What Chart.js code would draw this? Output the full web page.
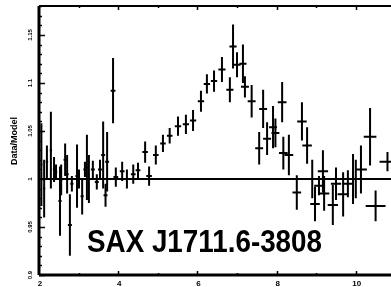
<!DOCTYPE html>
<html>
<head>
<meta charset="utf-8">
<script src="https://cdn.jsdelivr.net/npm/chart.js@4/dist/chart.umd.min.js"></script>
<style>
html, body { margin: 0; padding: 0; background: #fff; overflow: hidden; }
#wrap { width: 391px; height: 287px; position: relative; }
</style>
</head>
<body>
<div id="wrap"><canvas id="ratioChart"></canvas></div>
<script>
// energy (keV), data/model ratio and the errors
const energy = [2.06, 2.13, 2.20, 2.30, 2.38, 2.43, 2.53, 2.56, 2.66, 2.71, 2.78, 2.83, 2.96, 3.01, 3.09, 3.16, 3.21, 3.26,
    3.36, 3.46, 3.54, 3.62, 3.68, 3.72, 3.87, 3.94, 4.10, 4.22, 4.38, 4.50, 4.68, 4.78, 4.95, 5.13, 5.30, 5.51, 5.71,
    5.89, 6.09, 6.24, 6.42, 6.62, 6.82, 6.90, 7.00, 7.15, 7.20, 7.37, 7.56, 7.66, 7.76, 7.91, 7.97, 8.14, 8.17, 8.31,
    8.51, 8.64, 8.77, 8.90, 8.97, 9.07, 9.17, 9.20, 9.42, 9.50, 9.68, 9.80, 9.93, 10.0, 10.13, 10.36, 10.50, 10.80];
const ratio = [1.015, 0.990, 1.018, 1.030, 1.010, 1.007, 0.977, 0.999, 1.020, 1.005, 0.952, 0.995, 1.003, 1.000, 0.982, 1.010, 1.012, 1.000,
    1.010, 0.997, 1.010, 1.025, 0.983, 1.018, 1.092, 1.002, 1.008, 1.000, 1.005, 1.009, 1.028, 1.003, 1.025, 1.037, 1.045, 1.055, 1.057,
    1.061, 1.081, 1.099, 1.102, 1.114, 1.093, 1.138, 1.119, 1.120, 1.096, 1.081, 1.032, 1.073, 1.042, 1.054, 1.048, 1.080, 1.027, 1.025,
    0.986, 1.060, 1.035, 1.000, 0.974, 0.993, 1.008, 0.985, 0.973, 0.995, 0.984, 0.995, 1.000, 1.000, 1.010, 1.044, 0.972, 1.018];
const ratioErr = [0.043, 0.030, 0.017, 0.040, 0.013, 0.008, 0.036, 0.016, 0.017, 0.020, 0.032, 0.008, 0.033, 0.010, 0.019, 0.008, 0.034, 0.025,
    0.009, 0.008, 0.010, 0.035, 0.012, 0.031, 0.034, 0.010, 0.010, 0.010, 0.010, 0.008, 0.011, 0.010, 0.010, 0.009, 0.008, 0.010, 0.010,
    0.011, 0.011, 0.010, 0.011, 0.013, 0.013, 0.023, 0.013, 0.020, 0.011, 0.017, 0.017, 0.020, 0.017, 0.022, 0.015, 0.021, 0.017, 0.021,
    0.018, 0.020, 0.019, 0.020, 0.018, 0.010, 0.022, 0.018, 0.021, 0.017, 0.023, 0.014, 0.026, 0.020, 0.025, 0.030, 0.016, 0.010];
const energyErr = [0.03, 0.03, 0.03, 0.03, 0.03, 0.03, 0.04, 0.03, 0.04, 0.04, 0.05, 0.04, 0.04, 0.04, 0.04, 0.04, 0.04, 0.04,
    0.05, 0.05, 0.05, 0.05, 0.05, 0.05, 0.06, 0.06, 0.06, 0.06, 0.06, 0.06, 0.07, 0.07, 0.07, 0.07, 0.07, 0.08, 0.08,
    0.08, 0.08, 0.08, 0.08, 0.09, 0.09, 0.09, 0.09, 0.09, 0.10, 0.10, 0.10, 0.10, 0.10, 0.10, 0.10, 0.11, 0.11, 0.11,
    0.11, 0.12, 0.12, 0.12, 0.12, 0.12, 0.13, 0.13, 0.13, 0.13, 0.14, 0.14, 0.14, 0.15, 0.15, 0.16, 0.25, 0.20];

const xTicks = [2, 4, 6, 8, 10];
const yTicks = [0.9, 0.95, 1, 1.05, 1.1, 1.15];
const TITLE = 'SAX J1711.6-3808';
const YLABEL = 'Data/Model';

var points = [];
for (var i = 0; i < energy.length; i++) {
    points.push({x: energy[i], y: ratio[i], xe: energyErr[i], ye: ratioErr[i]});
}

// crosses, frame, ticks and labels, all placed through the chart scales
const spectrumPlugin = {
    id: 'spectrum',
    afterDatasetsDraw(chart) {
        const ctx = chart.ctx;
        const xs = chart.scales.x;
        const ys = chart.scales.y;
        const area = chart.chartArea;
        ctx.save();
        ctx.strokeStyle = '#000';
        ctx.fillStyle = '#000';

        // unity line
        ctx.lineWidth = 2;
        ctx.beginPath();
        ctx.moveTo(area.left, ys.getPixelForValue(1));
        ctx.lineTo(chart.width, ys.getPixelForValue(1));
        ctx.stroke();

        // error crosses
        ctx.lineWidth = 2;
        chart.data.datasets[0].data.forEach(function (p) {
            const px = xs.getPixelForValue(p.x);
            const py = ys.getPixelForValue(p.y);
            ctx.beginPath();
            ctx.moveTo(px, ys.getPixelForValue(p.y + p.ye));
            ctx.lineTo(px, ys.getPixelForValue(p.y - p.ye));
            ctx.moveTo(xs.getPixelForValue(p.x - p.xe), py);
            ctx.lineTo(xs.getPixelForValue(p.x + p.xe), py);
            ctx.stroke();
        });

        // frame
        ctx.lineWidth = 3;
        ctx.beginPath();
        ctx.moveTo(area.left, area.top);
        ctx.lineTo(area.left, area.bottom);
        ctx.stroke();
        ctx.lineWidth = 2;
        ctx.beginPath();
        ctx.moveTo(area.left, area.top);
        ctx.lineTo(chart.width, area.top);
        ctx.stroke();
        ctx.lineWidth = 3;
        ctx.beginPath();
        ctx.moveTo(area.left, area.bottom);
        ctx.lineTo(chart.width, area.bottom);
        ctx.stroke();

        // left ticks, minor every 0.01
        ctx.lineWidth = 1.5;
        for (var k = 0; k <= 28; k++) {
            const v = 0.9 + k * 0.01;
            const ty = Math.round(ys.getPixelForValue(v)) + 0.5;
            const len = (k % 5 === 0) ? 6 : 3;
            ctx.beginPath();
            ctx.moveTo(area.left, ty);
            ctx.lineTo(area.left + len, ty);
            ctx.stroke();
        }
        // top and bottom ticks every keV
        for (var e = 3; e <= 10; e++) {
            const tx = Math.round(xs.getPixelForValue(e)) + 0.5;
            const len = (e % 2 === 0) ? 4 : 2;
            ctx.beginPath();
            ctx.moveTo(tx, area.top);
            ctx.lineTo(tx, area.top + len);
            ctx.moveTo(tx, area.bottom);
            ctx.lineTo(tx, area.bottom - len);
            ctx.stroke();
        }

        // y tick labels, turned on their side
        ctx.font = 'bold 6px "Liberation Sans", Arial, sans-serif';
        ctx.textAlign = 'center';
        ctx.textBaseline = 'middle';
        yTicks.forEach(function (v) {
            ctx.save();
            ctx.translate(30, ys.getPixelForValue(v));
            ctx.rotate(-Math.PI / 2);
            ctx.fillText(String(v), 0, 0);
            ctx.restore();
        });
        // x tick labels
        ctx.font = 'bold 8px "Liberation Sans", Arial, sans-serif';
        ctx.textBaseline = 'top';
        xTicks.forEach(function (v) {
            ctx.fillText(String(v), xs.getPixelForValue(v) + 1, 280);
        });
        // axis title
        ctx.save();
        ctx.font = 'bold 9px "Liberation Sans", Arial, sans-serif';
        ctx.textBaseline = 'middle';
        ctx.translate(14.5, 141);
        ctx.rotate(-Math.PI / 2);
        ctx.fillText(YLABEL, 0, 0);
        ctx.restore();

        // source name
        ctx.font = 'bold 28px "Liberation Sans", Arial, sans-serif';
        ctx.textAlign = 'left';
        ctx.textBaseline = 'alphabetic';
        const w = ctx.measureText(TITLE).width;
        ctx.save();
        ctx.translate(87, 252);
        ctx.scale(235 / w, 1.12);
        ctx.fillText(TITLE, 0, 0);
        ctx.restore();

        ctx.restore();
    }
};

const ctx = document.getElementById('ratioChart');
const myChart = new Chart(ctx, {
    type: 'scatter',
    data: {
        datasets: [{
            label: YLABEL,
            data: points,
            pointRadius: 0,
            pointHoverRadius: 0,
            showLine: false
        }]
    },
    options: {
        responsive: true,
        maintainAspectRatio: false,
        animation: false,
        devicePixelRatio: 1,
        layout: { padding: { top: 6, right: 0, bottom: 0, left: 0 } },
        scales: {
            x: {
                type: 'linear',
                min: 2,
                max: 2 + 352 / 39.6,
                grid: { display: false },
                border: { display: false },
                ticks: { display: false },
                afterFit: function (s) { s.height = 12; }
            },
            y: {
                type: 'linear',
                min: 0.9,
                max: 0.9 + 269 / 960,
                grid: { display: false },
                border: { display: false },
                ticks: { display: false },
                afterFit: function (s) { s.width = 39; }
            }
        },
        plugins: {
            legend: { display: false },
            tooltip: { enabled: false }
        }
    },
    plugins: [spectrumPlugin]
});
</script>
</body>
</html>
